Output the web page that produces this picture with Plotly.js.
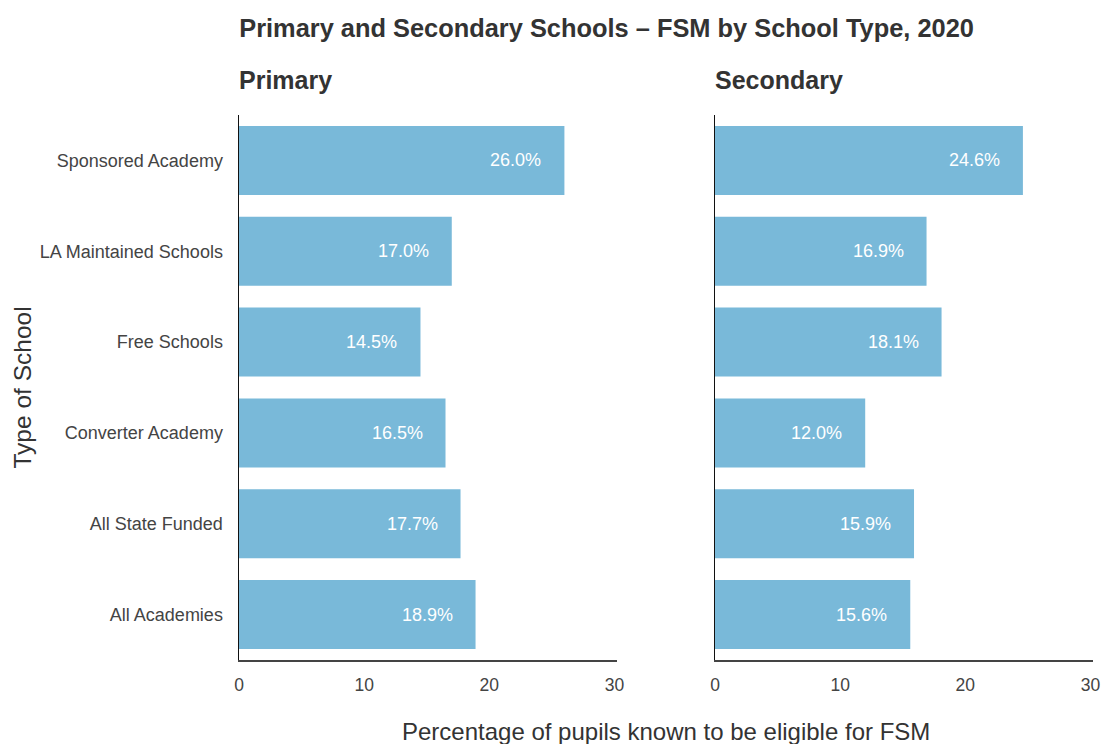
<!DOCTYPE html>
<html>
<head>
<meta charset="utf-8">
<script src="https://cdn.plot.ly/plotly-3.0.1.min.js"></script>
<style>html,body{margin:0;padding:0;background:#fff;}#chart{width:1105px;height:744px;}</style>
</head>
<body>
<div id="chart"></div>
<script>
const categories = ["Sponsored Academy", "LA Maintained Schools", "Free Schools", "Converter Academy", "All State Funded", "All Academies"];
const primaryValues = [26.0, 17.0, 14.5, 16.5, 17.7, 18.9];
const secondaryValues = [24.6, 16.9, 18.1, 12.0, 15.9, 15.6];
const xTicks = [0, 10, 20, 30];
const titleText = "Primary and Secondary Schools \u2013 FSM by School Type, 2020";
const panelTitles = ["Primary", "Secondary"];
const xTitleText = "Percentage of pupils known to be eligible for FSM";
const yTitleText = "Type of School";

const FONT = "Liberation Sans, Arial, Helvetica, sans-serif";
const BAR = "#79b9d9";

function barTrace(vals, xa, ya) {
  return {
    type: "bar", orientation: "h", x: vals, y: categories,
    xaxis: xa, yaxis: ya, marker: {color: BAR}, hoverinfo: "none", showlegend: false
  };
}

const annotations = [];
function addLabels(vals, xref, yref) {
  vals.forEach((v, i) => {
    annotations.push({
      x: v, y: categories[i], xref: xref, yref: yref,
      text: v.toFixed(1) + "%", showarrow: false, xanchor: "right", xshift: -21,
      font: {family: FONT, size: 18, color: "#ffffff"}
    });
  });
}
addLabels(primaryValues, "x", "y");
addLabels(secondaryValues, "x2", "y2");

annotations.push({xref: "x domain", yref: "paper", x: 0, y: 1, yshift: 35, xshift: -2, xanchor: "left", yanchor: "middle",
  text: "<b>" + panelTitles[0] + "</b>", showarrow: false, font: {family: FONT, size: 25, color: "#333333"}});
annotations.push({xref: "x2 domain", yref: "paper", x: 0, y: 1, yshift: 35, xshift: -2, xanchor: "left", yanchor: "middle",
  text: "<b>" + panelTitles[1] + "</b>", showarrow: false, font: {family: FONT, size: 25, color: "#333333"}});
annotations.push({xref: "paper", yref: "paper", x: 0.5, y: 0, yshift: -71, xanchor: "center", yanchor: "middle",
  text: xTitleText, showarrow: false, font: {family: FONT, size: 24, color: "#333333"}});
annotations.push({xref: "paper", yref: "paper", x: 0, y: 0.5, xshift: -217, xanchor: "center", yanchor: "middle",
  textangle: -90, text: yTitleText, showarrow: false, font: {family: FONT, size: 24.5, color: "#333333"}});

const xaxisBase = {
  range: [0, 30.2], tickvals: xTicks, ticktext: xTicks.map(String), showgrid: false, zeroline: false,
  showline: true, linecolor: "#444444", linewidth: 1.5, ticks: "", ticklabelstandoff: 8,
  tickfont: {family: FONT, size: 17.5, color: "#444444"}, fixedrange: true
};

const layout = {
  width: 1105, height: 744,
  margin: {l: 239, r: 12, t: 115, b: 84},
  paper_bgcolor: "#ffffff", plot_bgcolor: "#ffffff",
  title: {text: "<b>" + titleText + "</b>", x: 0.2165, xanchor: "left", y: 1 - 28 / 744, yanchor: "middle",
    font: {family: FONT, size: 25.4, color: "#333333"}},
  bargap: 0.24,
  xaxis: Object.assign({}, xaxisBase, {domain: [0, 0.4426], anchor: "y"}),
  xaxis2: Object.assign({}, xaxisBase, {domain: [0.5574, 1], anchor: "y2"}),
  yaxis: {autorange: "reversed", showgrid: false, zeroline: false, showline: true, linecolor: "#111111", linewidth: 1.5,
    ticks: "", ticklabelstandoff: 11, tickfont: {family: FONT, size: 18, color: "#444444"}, anchor: "x", fixedrange: true},
  yaxis2: {autorange: "reversed", showgrid: false, zeroline: false, showline: true, linecolor: "#111111", linewidth: 1.5,
    ticks: "", showticklabels: false, anchor: "x2", fixedrange: true},
  annotations: annotations
};

Plotly.newPlot("chart", [barTrace(primaryValues, "x", "y"), barTrace(secondaryValues, "x2", "y2")], layout,
  {displayModeBar: false, staticPlot: true});
</script>
</body>
</html>
